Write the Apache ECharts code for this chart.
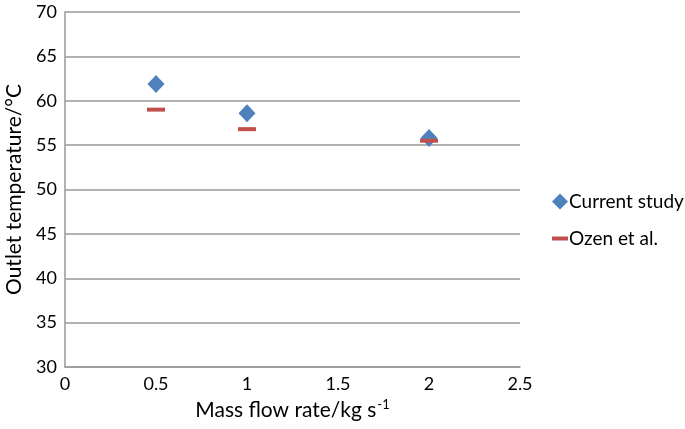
<!DOCTYPE html>
<html><head><meta charset="utf-8">
<script src="https://cdn.jsdelivr.net/npm/echarts@6/dist/echarts.min.js"></script>
<style>html,body{margin:0;padding:0;background:#fff}#c{width:685px;height:429px}</style>
</head><body><div id="c"></div>
<script>
var massFlow = [0.5, 1, 2];
var currentStudy = [61.9, 58.6, 55.8];
var ozenEtAl = [59.0, 56.8, 55.5];
var seriesNames = ['Current study', 'Ozen et al.'];
var xTitle = 'Mass flow rate/kg s';
var yTitle = 'Outlet temperature/°C';

var FONT = 'Lato';
var chart = echarts.init(document.getElementById('c'), null, {renderer: 'canvas'});
chart.setOption({
  animation: false,
  backgroundColor: '#fff',
  textStyle: {fontFamily: FONT},
  grid: {left: 65, right: 165, top: 12, bottom: 62, outerBoundsMode: 'none', containLabel: false},
  legend: {
    orient: 'vertical', left: 547, top: 187, itemGap: 18, itemWidth: 16, itemHeight: 16,
    textStyle: {fontFamily: FONT, fontSize: 19, color: '#000', padding: [0,0,0,-4]},
    data: [
      {name: seriesNames[0], icon: 'diamond'},
      {name: seriesNames[1], icon: 'path://M0,0H16V4H0Z'}
    ]
  },
  xAxis: {
    type: 'value', min: 0, max: 2.5, interval: 0.5,
    name: xTitle + '{sup|-1}', nameLocation: 'middle', nameGap: 31,
    nameTextStyle: {fontFamily: FONT, fontSize: 21, color: '#000',
      rich: {sup: {fontSize: 13, verticalAlign: 'top', padding: [0,0,12,1], color: '#000', fontFamily: FONT}}},
    axisLine: {show: true, lineStyle: {color: '#999', width: 1.5}},
    axisTick: {show: false},
    splitLine: {show: false},
    axisLabel: {fontFamily: FONT, fontSize: 18, color: '#000', margin: 8}
  },
  yAxis: {
    type: 'value', min: 30, max: 70, interval: 5,
    name: yTitle, nameLocation: 'middle', nameGap: 40,
    nameTextStyle: {fontFamily: FONT, fontSize: 21, color: '#000'},
    axisLine: {show: true, lineStyle: {color: '#999', width: 1.5}},
    axisTick: {show: false},
    splitLine: {show: true, lineStyle: {color: '#999', width: 1.5}},
    axisLabel: {fontFamily: FONT, fontSize: 18, color: '#000', margin: 8}
  },
  series: [
    {name: seriesNames[0], type: 'scatter', symbol: 'diamond', symbolSize: [17, 18],
     itemStyle: {color: '#4F81BD', opacity: 1},
     data: massFlow.map(function(x, i){ return [x, currentStudy[i]]; })},
    {name: seriesNames[1], type: 'scatter', symbol: 'rect', symbolSize: [18, 4],
     itemStyle: {color: '#C0504D', opacity: 1},
     data: massFlow.map(function(x, i){ return [x, ozenEtAl[i]]; })}
  ]
});
</script></body></html>
